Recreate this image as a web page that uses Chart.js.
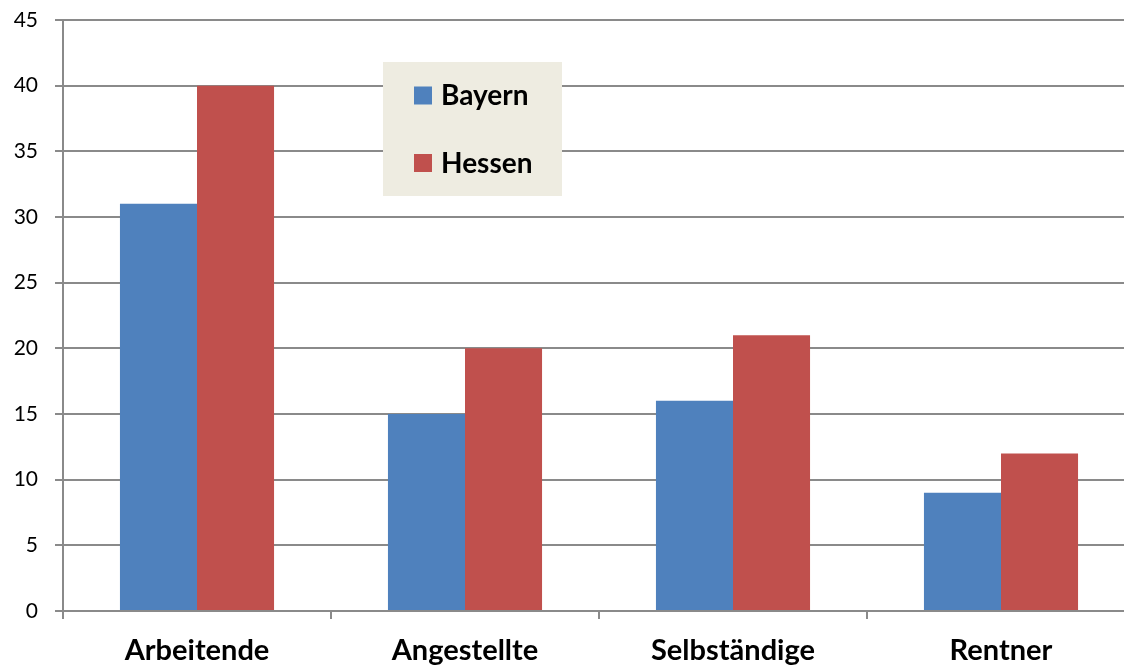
<!DOCTYPE html>
<html>
<head>
<meta charset="utf-8">
<script src="https://cdn.jsdelivr.net/npm/chart.js@4"></script>
<style>
  html, body { margin: 0; padding: 0; background: #fff; overflow: hidden; }
  #wrap { width: 1124px; height: 667px; overflow: hidden; }
</style>
</head>
<body>
<div id="wrap"><canvas id="chart" width="1135" height="667"></canvas></div>
<script>
const categories = ['Arbeitende', 'Angestellte', 'Selbständige', 'Rentner'];
const bayern = [31, 15, 16, 9];
const hessen = [40, 20, 21, 12];
const seriesNames = ['Bayern', 'Hessen'];
const seriesColors = ['#4F81BD', '#C0504D'];

const FONT = 'Lato, "Open Sans", sans-serif';
const GRID = '#8a8a8a';

// legend box drawn inside the plot (Excel style)
const boxLegend = {
    id: 'boxLegend',
    afterDraw(chart) {
        const ctx = chart.ctx;
        const x = 383, y = 62, w = 179, h = 134;
        ctx.save();
        ctx.fillStyle = '#EEECE1';
        ctx.fillRect(x, y, w, h);
        ctx.font = 'bold 28px ' + FONT;
        ctx.textBaseline = 'alphabetic';
        ctx.textAlign = 'left';
        chart.data.datasets.forEach((ds, i) => {
            const cy = y + 33.5 + i * 67.5;
            ctx.fillStyle = ds.backgroundColor;
            ctx.fillRect(x + 31, cy - 9, 18, 18);
            ctx.fillStyle = '#000';
            ctx.fillText(ds.label, x + 58, cy + 9.5);
        });
        ctx.restore();
    }
};

new Chart(document.getElementById('chart').getContext('2d'), {
    type: 'bar',
    data: {
        labels: categories,
        datasets: [
            { label: seriesNames[0], data: bayern, backgroundColor: seriesColors[0], borderWidth: 0 },
            { label: seriesNames[1], data: hessen, backgroundColor: seriesColors[1], borderWidth: 0 }
        ]
    },
    options: {
        responsive: false,
        animation: false,
        layout: { padding: { top: 20, right: 0, left: 0, bottom: 0 } },
        datasets: { bar: { barPercentage: 1, categoryPercentage: 0.575 } },
        plugins: {
            legend: { display: false },
            tooltip: { enabled: false }
        },
        scales: {
            x: {
                offset: true,
                grid: { offset: true, drawOnChartArea: false, drawTicks: true, tickLength: 8, color: GRID, lineWidth: 2 },
                border: { color: GRID, width: 2 },
                ticks: { color: '#000', font: { family: FONT, size: 29, weight: 'bold' }, padding: 14 },
                afterFit(scale) {
                    scale.height = 56;
                    scale.paddingLeft = 0;
                    scale.paddingRight = 0;
                }
            },
            y: {
                min: 0,
                max: 45,
                ticks: { stepSize: 5, color: '#000', font: { family: FONT, size: 21 }, padding: 17 },
                grid: { color: GRID, lineWidth: 2, tickLength: 8 },
                border: { color: GRID, width: 2 },
                afterFit(scale) {
                    scale.width = 63;
                    scale.paddingTop = 0;
                    scale.paddingBottom = 0;
                }
            }
        }
    },
    plugins: [boxLegend]
});
</script>
</body>
</html>
